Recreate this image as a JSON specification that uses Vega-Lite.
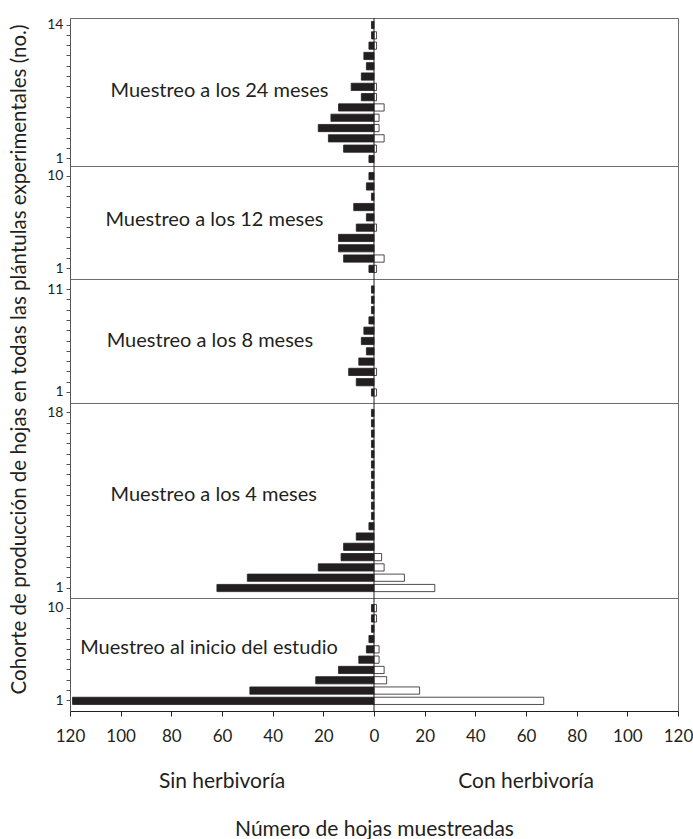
{
  "$schema": "https://vega.github.io/schema/vega-lite/v6.json",
  "padding": {"left": 8, "top": 17, "right": 0, "bottom": 0},
  "background": "white",
  "data": {"values": [
    {"muestreo": "Muestreo a los 24 meses", "cohorte": 14, "grupo": "Sin herbivoría", "hojas": -1},
    {"muestreo": "Muestreo a los 24 meses", "cohorte": 13, "grupo": "Sin herbivoría", "hojas": -1},
    {"muestreo": "Muestreo a los 24 meses", "cohorte": 13, "grupo": "Con herbivoría", "hojas": 1},
    {"muestreo": "Muestreo a los 24 meses", "cohorte": 12, "grupo": "Sin herbivoría", "hojas": -2},
    {"muestreo": "Muestreo a los 24 meses", "cohorte": 12, "grupo": "Con herbivoría", "hojas": 1},
    {"muestreo": "Muestreo a los 24 meses", "cohorte": 11, "grupo": "Sin herbivoría", "hojas": -4},
    {"muestreo": "Muestreo a los 24 meses", "cohorte": 10, "grupo": "Sin herbivoría", "hojas": -3},
    {"muestreo": "Muestreo a los 24 meses", "cohorte": 9, "grupo": "Sin herbivoría", "hojas": -5},
    {"muestreo": "Muestreo a los 24 meses", "cohorte": 8, "grupo": "Sin herbivoría", "hojas": -9},
    {"muestreo": "Muestreo a los 24 meses", "cohorte": 8, "grupo": "Con herbivoría", "hojas": 1},
    {"muestreo": "Muestreo a los 24 meses", "cohorte": 7, "grupo": "Sin herbivoría", "hojas": -5},
    {"muestreo": "Muestreo a los 24 meses", "cohorte": 7, "grupo": "Con herbivoría", "hojas": 1},
    {"muestreo": "Muestreo a los 24 meses", "cohorte": 6, "grupo": "Sin herbivoría", "hojas": -14},
    {"muestreo": "Muestreo a los 24 meses", "cohorte": 6, "grupo": "Con herbivoría", "hojas": 4},
    {"muestreo": "Muestreo a los 24 meses", "cohorte": 5, "grupo": "Sin herbivoría", "hojas": -17},
    {"muestreo": "Muestreo a los 24 meses", "cohorte": 5, "grupo": "Con herbivoría", "hojas": 2},
    {"muestreo": "Muestreo a los 24 meses", "cohorte": 4, "grupo": "Sin herbivoría", "hojas": -22},
    {"muestreo": "Muestreo a los 24 meses", "cohorte": 4, "grupo": "Con herbivoría", "hojas": 2},
    {"muestreo": "Muestreo a los 24 meses", "cohorte": 3, "grupo": "Sin herbivoría", "hojas": -18},
    {"muestreo": "Muestreo a los 24 meses", "cohorte": 3, "grupo": "Con herbivoría", "hojas": 4},
    {"muestreo": "Muestreo a los 24 meses", "cohorte": 2, "grupo": "Sin herbivoría", "hojas": -12},
    {"muestreo": "Muestreo a los 24 meses", "cohorte": 2, "grupo": "Con herbivoría", "hojas": 1},
    {"muestreo": "Muestreo a los 24 meses", "cohorte": 1, "grupo": "Sin herbivoría", "hojas": -2},

    {"muestreo": "Muestreo a los 12 meses", "cohorte": 10, "grupo": "Sin herbivoría", "hojas": -2},
    {"muestreo": "Muestreo a los 12 meses", "cohorte": 9, "grupo": "Sin herbivoría", "hojas": -3},
    {"muestreo": "Muestreo a los 12 meses", "cohorte": 8, "grupo": "Sin herbivoría", "hojas": -1},
    {"muestreo": "Muestreo a los 12 meses", "cohorte": 7, "grupo": "Sin herbivoría", "hojas": -8},
    {"muestreo": "Muestreo a los 12 meses", "cohorte": 6, "grupo": "Sin herbivoría", "hojas": -3},
    {"muestreo": "Muestreo a los 12 meses", "cohorte": 5, "grupo": "Sin herbivoría", "hojas": -7},
    {"muestreo": "Muestreo a los 12 meses", "cohorte": 5, "grupo": "Con herbivoría", "hojas": 1},
    {"muestreo": "Muestreo a los 12 meses", "cohorte": 4, "grupo": "Sin herbivoría", "hojas": -14},
    {"muestreo": "Muestreo a los 12 meses", "cohorte": 3, "grupo": "Sin herbivoría", "hojas": -14},
    {"muestreo": "Muestreo a los 12 meses", "cohorte": 2, "grupo": "Sin herbivoría", "hojas": -12},
    {"muestreo": "Muestreo a los 12 meses", "cohorte": 2, "grupo": "Con herbivoría", "hojas": 4},
    {"muestreo": "Muestreo a los 12 meses", "cohorte": 1, "grupo": "Sin herbivoría", "hojas": -2},
    {"muestreo": "Muestreo a los 12 meses", "cohorte": 1, "grupo": "Con herbivoría", "hojas": 1},

    {"muestreo": "Muestreo a los 8 meses", "cohorte": 11, "grupo": "Sin herbivoría", "hojas": -1},
    {"muestreo": "Muestreo a los 8 meses", "cohorte": 10, "grupo": "Sin herbivoría", "hojas": -1},
    {"muestreo": "Muestreo a los 8 meses", "cohorte": 9, "grupo": "Sin herbivoría", "hojas": -1},
    {"muestreo": "Muestreo a los 8 meses", "cohorte": 8, "grupo": "Sin herbivoría", "hojas": -2},
    {"muestreo": "Muestreo a los 8 meses", "cohorte": 7, "grupo": "Sin herbivoría", "hojas": -4},
    {"muestreo": "Muestreo a los 8 meses", "cohorte": 6, "grupo": "Sin herbivoría", "hojas": -5},
    {"muestreo": "Muestreo a los 8 meses", "cohorte": 5, "grupo": "Sin herbivoría", "hojas": -3},
    {"muestreo": "Muestreo a los 8 meses", "cohorte": 4, "grupo": "Sin herbivoría", "hojas": -6},
    {"muestreo": "Muestreo a los 8 meses", "cohorte": 3, "grupo": "Sin herbivoría", "hojas": -10},
    {"muestreo": "Muestreo a los 8 meses", "cohorte": 3, "grupo": "Con herbivoría", "hojas": 1},
    {"muestreo": "Muestreo a los 8 meses", "cohorte": 2, "grupo": "Sin herbivoría", "hojas": -7},
    {"muestreo": "Muestreo a los 8 meses", "cohorte": 1, "grupo": "Sin herbivoría", "hojas": -1},
    {"muestreo": "Muestreo a los 8 meses", "cohorte": 1, "grupo": "Con herbivoría", "hojas": 1},

    {"muestreo": "Muestreo a los 4 meses", "cohorte": 18, "grupo": "Sin herbivoría", "hojas": -1},
    {"muestreo": "Muestreo a los 4 meses", "cohorte": 17, "grupo": "Sin herbivoría", "hojas": -1},
    {"muestreo": "Muestreo a los 4 meses", "cohorte": 16, "grupo": "Sin herbivoría", "hojas": -1},
    {"muestreo": "Muestreo a los 4 meses", "cohorte": 15, "grupo": "Sin herbivoría", "hojas": -1},
    {"muestreo": "Muestreo a los 4 meses", "cohorte": 14, "grupo": "Sin herbivoría", "hojas": -1},
    {"muestreo": "Muestreo a los 4 meses", "cohorte": 13, "grupo": "Sin herbivoría", "hojas": -1},
    {"muestreo": "Muestreo a los 4 meses", "cohorte": 12, "grupo": "Sin herbivoría", "hojas": -1},
    {"muestreo": "Muestreo a los 4 meses", "cohorte": 11, "grupo": "Sin herbivoría", "hojas": -1},
    {"muestreo": "Muestreo a los 4 meses", "cohorte": 10, "grupo": "Sin herbivoría", "hojas": -1},
    {"muestreo": "Muestreo a los 4 meses", "cohorte": 9, "grupo": "Sin herbivoría", "hojas": -1},
    {"muestreo": "Muestreo a los 4 meses", "cohorte": 8, "grupo": "Sin herbivoría", "hojas": -1},
    {"muestreo": "Muestreo a los 4 meses", "cohorte": 7, "grupo": "Sin herbivoría", "hojas": -2},
    {"muestreo": "Muestreo a los 4 meses", "cohorte": 6, "grupo": "Sin herbivoría", "hojas": -7},
    {"muestreo": "Muestreo a los 4 meses", "cohorte": 5, "grupo": "Sin herbivoría", "hojas": -12},
    {"muestreo": "Muestreo a los 4 meses", "cohorte": 4, "grupo": "Sin herbivoría", "hojas": -13},
    {"muestreo": "Muestreo a los 4 meses", "cohorte": 4, "grupo": "Con herbivoría", "hojas": 3},
    {"muestreo": "Muestreo a los 4 meses", "cohorte": 3, "grupo": "Sin herbivoría", "hojas": -22},
    {"muestreo": "Muestreo a los 4 meses", "cohorte": 3, "grupo": "Con herbivoría", "hojas": 4},
    {"muestreo": "Muestreo a los 4 meses", "cohorte": 2, "grupo": "Sin herbivoría", "hojas": -50},
    {"muestreo": "Muestreo a los 4 meses", "cohorte": 2, "grupo": "Con herbivoría", "hojas": 12},
    {"muestreo": "Muestreo a los 4 meses", "cohorte": 1, "grupo": "Sin herbivoría", "hojas": -62},
    {"muestreo": "Muestreo a los 4 meses", "cohorte": 1, "grupo": "Con herbivoría", "hojas": 24},

    {"muestreo": "Muestreo al inicio del estudio", "cohorte": 10, "grupo": "Sin herbivoría", "hojas": -1},
    {"muestreo": "Muestreo al inicio del estudio", "cohorte": 10, "grupo": "Con herbivoría", "hojas": 1},
    {"muestreo": "Muestreo al inicio del estudio", "cohorte": 9, "grupo": "Sin herbivoría", "hojas": -1},
    {"muestreo": "Muestreo al inicio del estudio", "cohorte": 9, "grupo": "Con herbivoría", "hojas": 1},
    {"muestreo": "Muestreo al inicio del estudio", "cohorte": 8, "grupo": "Sin herbivoría", "hojas": -1},
    {"muestreo": "Muestreo al inicio del estudio", "cohorte": 7, "grupo": "Sin herbivoría", "hojas": -2},
    {"muestreo": "Muestreo al inicio del estudio", "cohorte": 6, "grupo": "Sin herbivoría", "hojas": -3},
    {"muestreo": "Muestreo al inicio del estudio", "cohorte": 6, "grupo": "Con herbivoría", "hojas": 2},
    {"muestreo": "Muestreo al inicio del estudio", "cohorte": 5, "grupo": "Sin herbivoría", "hojas": -6},
    {"muestreo": "Muestreo al inicio del estudio", "cohorte": 5, "grupo": "Con herbivoría", "hojas": 2},
    {"muestreo": "Muestreo al inicio del estudio", "cohorte": 4, "grupo": "Sin herbivoría", "hojas": -14},
    {"muestreo": "Muestreo al inicio del estudio", "cohorte": 4, "grupo": "Con herbivoría", "hojas": 4},
    {"muestreo": "Muestreo al inicio del estudio", "cohorte": 3, "grupo": "Sin herbivoría", "hojas": -23},
    {"muestreo": "Muestreo al inicio del estudio", "cohorte": 3, "grupo": "Con herbivoría", "hojas": 5},
    {"muestreo": "Muestreo al inicio del estudio", "cohorte": 2, "grupo": "Sin herbivoría", "hojas": -49},
    {"muestreo": "Muestreo al inicio del estudio", "cohorte": 2, "grupo": "Con herbivoría", "hojas": 18},
    {"muestreo": "Muestreo al inicio del estudio", "cohorte": 1, "grupo": "Sin herbivoría", "hojas": -119},
    {"muestreo": "Muestreo al inicio del estudio", "cohorte": 1, "grupo": "Con herbivoría", "hojas": 67}
  ]},
  "vconcat": [
    {
      "width": 608,
      "height": 148,
      "transform": [{"filter": "datum.muestreo == 'Muestreo a los 24 meses'"}],
      "layer": [
        {
          "mark": {"type": "bar", "stroke": "#231f20", "strokeWidth": 0.8},
          "encoding": {
            "y": {"field": "cohorte", "type": "ordinal", "sort": "descending", "scale": {"paddingInner": 0.3, "paddingOuter": 0.335}, "axis": {"title": null, "labelExpr": "datum.value == 1 || datum.value == 14 ? datum.label : ''"}},
            "x": {"field": "hojas", "type": "quantitative", "scale": {"domain": [-120, 120]}, "axis": null},
            "fill": {"field": "grupo", "type": "nominal", "scale": {"domain": ["Sin herbivoría", "Con herbivoría"], "range": ["#231f20", "white"]}, "legend": null}
          }
        },
        {
          "transform": [{"filter": "datum.cohorte == 1 && datum.grupo == 'Sin herbivoría'"}],
          "mark": {"type": "rule", "color": "#231f20", "strokeWidth": 1},
          "encoding": {"x": {"datum": 0, "type": "quantitative"}}
        },
        {
          "transform": [{"filter": "datum.cohorte == 1 && datum.grupo == 'Sin herbivoría'"}],
          "mark": {"type": "text", "align": "left", "baseline": "middle", "fontSize": 20, "dy": 4, "color": "#231f20"},
          "encoding": {"x": {"datum": -104, "type": "quantitative"}, "y": {"datum": 8, "type": "ordinal"}, "text": {"field": "muestreo"}}
        }
      ]
    },
    {
      "width": 608,
      "height": 113,
      "transform": [{"filter": "datum.muestreo == 'Muestreo a los 12 meses'"}],
      "layer": [
        {
          "mark": {"type": "bar", "stroke": "#231f20", "strokeWidth": 0.8},
          "encoding": {
            "y": {"field": "cohorte", "type": "ordinal", "sort": "descending", "scale": {"paddingInner": 0.3, "paddingOuter": 0.635}, "axis": {"title": null, "labelExpr": "datum.value == 1 || datum.value == 10 ? datum.label : ''"}},
            "x": {"field": "hojas", "type": "quantitative", "scale": {"domain": [-120, 120]}, "axis": null},
            "fill": {"field": "grupo", "type": "nominal", "scale": {"domain": ["Sin herbivoría", "Con herbivoría"], "range": ["#231f20", "white"]}, "legend": null}
          }
        },
        {
          "transform": [{"filter": "datum.cohorte == 1 && datum.grupo == 'Sin herbivoría'"}],
          "mark": {"type": "rule", "color": "#231f20", "strokeWidth": 1},
          "encoding": {"x": {"datum": 0, "type": "quantitative"}}
        },
        {
          "transform": [{"filter": "datum.cohorte == 1 && datum.grupo == 'Sin herbivoría'"}],
          "mark": {"type": "text", "align": "left", "baseline": "middle", "fontSize": 20, "dy": 3, "color": "#231f20"},
          "encoding": {"x": {"datum": -106, "type": "quantitative"}, "y": {"datum": 6, "type": "ordinal"}, "text": {"field": "muestreo"}}
        }
      ]
    },
    {
      "width": 608,
      "height": 124,
      "transform": [{"filter": "datum.muestreo == 'Muestreo a los 8 meses'"}],
      "layer": [
        {
          "mark": {"type": "bar", "stroke": "#231f20", "strokeWidth": 0.8},
          "encoding": {
            "y": {"field": "cohorte", "type": "ordinal", "sort": "descending", "scale": {"paddingInner": 0.3, "paddingOuter": 0.67},
              "axis": {"labelExpr": "datum.value == 1 || datum.value == 11 ? datum.label : ''",
                "title": "Cohorte de producción de hojas en todas las plántulas experimentales (no.)",
                "titleX": -45, "titleY": 80, "titleAngle": -90, "titleAlign": "center", "titleBaseline": "alphabetic", "titleFontSize": 20.5, "titleFontWeight": "normal", "titleColor": "#231f20"}},
            "x": {"field": "hojas", "type": "quantitative", "scale": {"domain": [-120, 120]}, "axis": null},
            "fill": {"field": "grupo", "type": "nominal", "scale": {"domain": ["Sin herbivoría", "Con herbivoría"], "range": ["#231f20", "white"]}, "legend": null}
          }
        },
        {
          "transform": [{"filter": "datum.cohorte == 1 && datum.grupo == 'Sin herbivoría'"}],
          "mark": {"type": "rule", "color": "#231f20", "strokeWidth": 1},
          "encoding": {"x": {"datum": 0, "type": "quantitative"}}
        },
        {
          "transform": [{"filter": "datum.cohorte == 1 && datum.grupo == 'Sin herbivoría'"}],
          "mark": {"type": "text", "align": "left", "baseline": "middle", "fontSize": 20, "dy": 0, "color": "#231f20"},
          "encoding": {"x": {"datum": -105.5, "type": "quantitative"}, "y": {"datum": 6, "type": "ordinal"}, "text": {"field": "muestreo"}}
        }
      ]
    },
    {
      "width": 608,
      "height": 195,
      "transform": [{"filter": "datum.muestreo == 'Muestreo a los 4 meses'"}],
      "layer": [
        {
          "mark": {"type": "bar", "stroke": "#231f20", "strokeWidth": 0.8},
          "encoding": {
            "y": {"field": "cohorte", "type": "ordinal", "sort": "descending", "scale": {"paddingInner": 0.3, "paddingOuter": 0.62}, "axis": {"title": null, "labelExpr": "datum.value == 1 || datum.value == 18 ? datum.label : ''"}},
            "x": {"field": "hojas", "type": "quantitative", "scale": {"domain": [-120, 120]}, "axis": null},
            "fill": {"field": "grupo", "type": "nominal", "scale": {"domain": ["Sin herbivoría", "Con herbivoría"], "range": ["#231f20", "white"]}, "legend": null}
          }
        },
        {
          "transform": [{"filter": "datum.cohorte == 1 && datum.grupo == 'Sin herbivoría'"}],
          "mark": {"type": "rule", "color": "#231f20", "strokeWidth": 1},
          "encoding": {"x": {"datum": 0, "type": "quantitative"}}
        },
        {
          "transform": [{"filter": "datum.cohorte == 1 && datum.grupo == 'Sin herbivoría'"}],
          "mark": {"type": "text", "align": "left", "baseline": "middle", "fontSize": 20, "dy": 0, "color": "#231f20"},
          "encoding": {"x": {"datum": -104, "type": "quantitative"}, "y": {"datum": 10, "type": "ordinal"}, "text": {"field": "muestreo"}}
        }
      ]
    },
    {
      "width": 608,
      "height": 113,
      "transform": [{"filter": "datum.muestreo == 'Muestreo al inicio del estudio'"}],
      "layer": [
        {
          "mark": {"type": "bar", "stroke": "#231f20", "strokeWidth": 0.8},
          "encoding": {
            "y": {"field": "cohorte", "type": "ordinal", "sort": "descending", "scale": {"paddingInner": 0.3, "paddingOuter": 0.635}, "axis": {"title": null, "labelExpr": "datum.value == 1 || datum.value == 10 ? datum.label : ''"}},
            "x": {"field": "hojas", "type": "quantitative", "scale": {"domain": [-120, 120]},
              "axis": {"values": [-120, -100, -80, -60, -40, -20, 0, 20, 40, 60, 80, 100, 120], "labelExpr": "abs(datum.value)", "title": "Número de hojas muestreadas"}},
            "fill": {"field": "grupo", "type": "nominal", "scale": {"domain": ["Sin herbivoría", "Con herbivoría"], "range": ["#231f20", "white"]}, "legend": null}
          }
        },
        {
          "transform": [{"filter": "datum.cohorte == 1 && datum.grupo == 'Sin herbivoría'"}],
          "mark": {"type": "rule", "color": "#231f20", "strokeWidth": 1},
          "encoding": {"x": {"datum": 0, "type": "quantitative"}}
        },
        {
          "transform": [{"filter": "datum.cohorte == 1 && datum.grupo == 'Sin herbivoría'"}],
          "mark": {"type": "text", "align": "left", "baseline": "middle", "fontSize": 20, "dy": -1, "color": "#231f20"},
          "encoding": {"x": {"datum": -116, "type": "quantitative"}, "y": {"datum": 6, "type": "ordinal"}, "text": {"field": "muestreo"}}
        },
        {
          "transform": [{"filter": "datum.cohorte == 1 && datum.grupo == 'Sin herbivoría'"}],
          "mark": {"type": "text", "align": "center", "baseline": "middle", "fontSize": 21, "dy": 81, "color": "#231f20"},
          "encoding": {"x": {"datum": -60, "type": "quantitative"}, "y": {"datum": 1, "type": "ordinal"}, "text": {"field": "grupo"}}
        },
        {
          "transform": [{"filter": "datum.cohorte == 1 && datum.grupo == 'Con herbivoría'"}],
          "mark": {"type": "text", "align": "center", "baseline": "middle", "fontSize": 21, "dy": 81, "color": "#231f20"},
          "encoding": {"x": {"datum": 60, "type": "quantitative"}, "y": {"datum": 1, "type": "ordinal"}, "text": {"field": "grupo"}}
        }
      ]
    }
  ],
  "spacing": 0,
  "bounds": "flush",
  "resolve": {"scale": {"y": "independent", "x": "independent"}},
  "config": {
    "font": "Lato",
    "view": {"stroke": "#6d6d6d", "strokeWidth": 1},
    "axisY": {"domainColor": "#555", "tickColor": "#555", "tickSize": 4, "labelFontSize": 14, "labelColor": "#231f20", "grid": false, "labelPadding": 3, "labelFont": "Lato"},
    "axisX": {"domainColor": "#231f20", "tickColor": "#231f20", "tickSize": 5, "labelFontSize": 17, "labelColor": "#231f20", "grid": false, "labelPadding": 12, "titleFontSize": 21, "titleFontWeight": "normal", "titleColor": "#231f20", "titlePadding": 74, "labelFlush": false}
  }
}
